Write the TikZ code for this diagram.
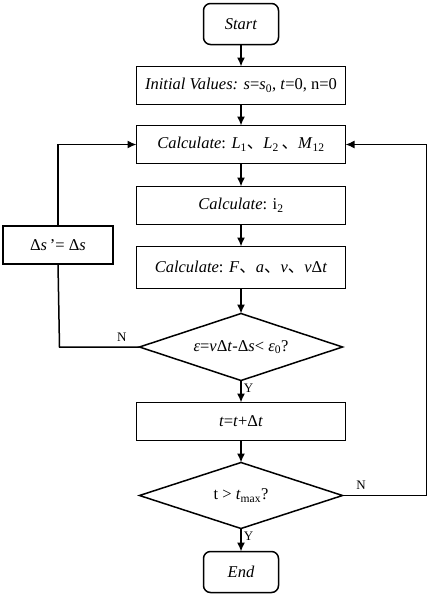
\documentclass[tikz,border=0pt]{standalone}
\usepackage{fontspec}
\setmainfont{Liberation Serif}
\newfontfamily\cjk{Noto Sans CJK SC}
\usepackage{tikz}
\usetikzlibrary{arrows.meta,shapes,positioning}
\newcommand\dun{{\cjk 、}}
\newcommand\idx[1]{\textsubscript{#1}}

\begin{document}
\begin{tikzpicture}[->,>={Latex[length=9pt,width=8pt]},x=1pt,y=1pt,line width=1.5pt,node distance=22pt,
		font=\fontsize{16.5}{19}\selectfont]
		\tikzstyle{term}=[rectangle,rounded corners=7pt,draw=black,minimum width=75pt,minimum height=41pt,inner sep=0pt,outer sep=0pt]
		\tikzstyle{proc}=[rectangle,draw=black,minimum width=209pt,minimum height=38pt,inner sep=0pt,outer sep=0pt]
		\tikzstyle{cond}=[diamond,draw=black,aspect=3,inner sep=0pt,outer sep=0pt,minimum width=203pt,minimum height=66pt]
		\tikzstyle{lbl}=[font=\fontsize{13}{15}\selectfont,inner sep=2pt]
		\useasboundingbox (0,0) rectangle (429,-597);

		\node[term] (start) at (241,-24) {\textit{Start}};
		\node[proc] (init) [below=of start] {\textit{Initial Values: s}=\textit{s}\idx{0}, \textit{t}=0, n=0};
		\node[proc] (calcL) [below=21pt of init] {\textit{Calculate}: \textit{L}\idx{1}\dun\textit{L}\idx{2}\,\dun\textit{M}\idx{12}};
		\node[proc] (calci) [below=23pt of calcL] {\textit{Calculate}: i\idx{2}};
		\node[proc,minimum height=42pt] (calcF) [below=of calci] {\textit{Calculate}: \textit{F}\dun\textit{a}\dun\textit{v}\dun\textit{v}Δ\textit{t}};
		\node[cond,minimum height=67pt] (err) [below=25pt of calcF] {\textit{ε}=\textit{v}Δ\textit{t}-Δ\textit{s}< \textit{ε}\idx{0}?};
		\node[proc] (tstep) [below=of err] {\textit{t}=\textit{t}+Δ\textit{t}};
		\node[cond] (tend) [below=of tstep] {t > \textit{t}\idx{max}?};
		\node[term] (stop) [below=23pt of tend] {\textit{End}};
		\node[proc,minimum width=110pt] (upd) at (58,-245) {Δ\textit{s}\,’= Δ\textit{s}};

		\draw (start) -- (init);
		\draw (init) -- (calcL);
		\draw (calcL) -- (calci);
		\draw (calci) -- (calcF);
		\draw (calcF) -- (err);
		\draw (err) -- node[lbl,right,pos=0.35] {Y} (tstep);
		\draw (tstep) -- (tend);
		\draw (tend) -- node[lbl,right,pos=0.35] {Y} (stop);
		\draw[-] (err.west) -- node[lbl,above,pos=0.22,yshift=3pt] {N} ++(-80,0) -- (upd.south);
		\draw (upd.north) |- (calcL.west);
		\draw (tend.east) -- node[lbl,above,pos=0.22,yshift=3pt] {N} ++(84,0) |- (calcL.east);
	\end{tikzpicture}
\end{document}
